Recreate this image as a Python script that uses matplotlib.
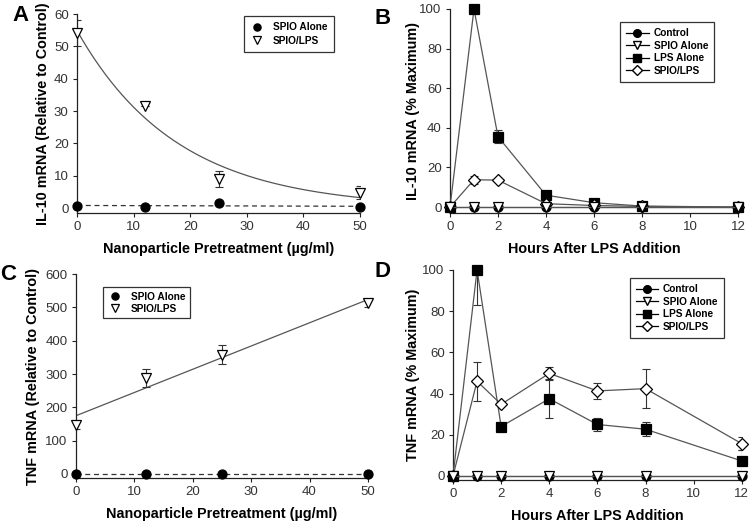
import numpy as np
import matplotlib
matplotlib.use("Agg")
import matplotlib.pyplot as plt
from matplotlib.lines import Line2D

plt.rcParams['font.family'] = ['Liberation Sans', 'DejaVu Sans']

# ---------------- data ----------------
conc = [0, 12, 25, 50]
a_spio_alone = [0.8, 0.3, 1.5, 0.3]
a_spio_lps = [54.0, 31.5, 9.0, 4.8]
a_spio_lps_err = [4.0, 0.0, 2.6, 2.0]

c_spio_alone = [0.0, 0.0, 0.0, 0.0]
c_spio_lps = [148, 288, 358, 512]
c_spio_lps_err = [12, 27, 29, 12]

hours = [0, 1, 2, 4, 6, 8, 12]
b_control = [0, 0, 0, 0, 0, 0, 0]
b_spio_alone = [0, 0, 0, 0, 0, 0, 0]
b_lps_alone = [0, 100, 35.5, 6.0, 2.2, 0.5, 0]
b_lps_alone_err = [0, 0, 3.2, 0, 0, 0, 0]
b_spio_lps = [0, 13.8, 13.6, 1.7, 0.8, 0.3, 0]
b_spio_lps_err = [0, 2.0, 0, 0, 0, 0, 0]

d_control = [0, 0, 0, 0, 0, 0, 0]
d_spio_alone = [0, 0, 0, 0, 0, 0, 0]
d_lps_alone = [0, 100, 24, 37.5, 25, 22.7, 7.3]
d_lps_alone_err = [0, 17, 0, 9.5, 3.0, 3.5, 5.3]
d_spio_lps = [0, 46, 34.8, 49.8, 41.3, 42.4, 15.7]
d_spio_lps_err = [0, 9.5, 0, 3.0, 3.7, 9.6, 3.0]

tick_col = '#333333'
line_col = '#555555'
LABEL_FS = 10.4

fig = plt.figure(figsize=(7.5, 5.27), dpi=100)


def style(ax):
    for s in ['top', 'right']:
        ax.spines[s].set_visible(False)
    for s in ['left', 'bottom']:
        ax.spines[s].set_linewidth(0.9)
        ax.spines[s].set_color('#222222')
    ax.tick_params(direction='out', length=3, width=0.8, labelsize=9.5,
                   labelcolor=tick_col, color='#222222', pad=3)


def exp_fit(x, y):
    x = np.asarray(x, float)
    y = np.asarray(y, float)
    best = None
    for k in np.linspace(0.001, 0.2, 2000):
        e = np.exp(-k * x)
        amp = np.sum(y * e) / np.sum(e * e)
        sse = np.sum((y - amp * e) ** 2)
        if best is None or sse < best[0]:
            best = (sse, amp, k)
    return best[1], best[2]


mk_kw = dict(markersize=6.5, markeredgecolor='black', markeredgewidth=0.9, clip_on=False, zorder=5)
err_kw = dict(ecolor='#333333', elinewidth=0.8, capsize=3, capthick=0.8)


def labels(ax, xl, yl, ycoord):
    ax.set_xlabel(xl, fontsize=LABEL_FS, fontweight='bold', labelpad=6)
    ax.set_ylabel(yl, fontsize=LABEL_FS, fontweight='bold')
    ax.yaxis.set_label_coords(ycoord, 0.5)


def two_legend(ax, loc, anchor, pad, spacing):
    lg = ax.legend(loc=loc, bbox_to_anchor=anchor, frameon=True, markerscale=0.8,
                   fancybox=False, edgecolor='black', handlelength=1.5, borderpad=pad,
                   labelspacing=spacing, prop={'weight': 'bold', 'size': 7.3})
    lg.get_frame().set_linewidth(0.9)


# ---------------- Panel A ----------------
axA = fig.add_axes([0.1027, 0.5958, 0.3773, 0.3776])
style(axA)
xs = np.linspace(0, 50, 200)
p = np.polyfit(conc, a_spio_alone, 1)
axA.plot(xs, np.polyval(p, xs), ls=(0, (4, 3)), color='#333333', lw=0.9)
amp, k = exp_fit(conc, a_spio_lps)
axA.plot(xs, amp * np.exp(-k * xs), color=line_col, lw=0.9)
axA.errorbar(conc, a_spio_lps, yerr=a_spio_lps_err, fmt='none', **err_kw)
axA.plot(conc, a_spio_alone, 'o', color='black', label='SPIO Alone', **mk_kw)
axA.plot(conc, a_spio_lps, 'v', color='white', label='SPIO/LPS', **mk_kw)
axA.set_xlim(0, 50)
axA.set_ylim(-1.5, 60)
axA.set_xticks([0, 10, 20, 30, 40, 50])
axA.set_yticks([0, 10, 20, 30, 40, 50, 60])
labels(axA, 'Nanoparticle Pretreatment (µg/ml)', 'IL-10 mRNA (Relative to Control)', -0.095)
two_legend(axA, 'upper right', (0.925, 1.015), 0.6, 0.35)

# ---------------- Panel B ----------------
axB = fig.add_axes([0.6, 0.5958, 0.384, 0.3872])
style(axB)
axB.errorbar(hours, b_lps_alone, yerr=b_lps_alone_err, fmt='none', **err_kw)
axB.errorbar(hours, b_spio_lps, yerr=b_spio_lps_err, fmt='none', **err_kw)
axB.plot(hours, b_lps_alone, '-s', color=line_col, markerfacecolor='black', label='LPS Alone', lw=0.9, **mk_kw)
axB.plot(hours, b_spio_lps, '-D', color=line_col, markerfacecolor='white', label='SPIO/LPS', lw=0.9,
         **{**mk_kw, 'markersize': 6})
axB.plot(hours, b_control, '-o', color=line_col, markerfacecolor='black', label='Control', lw=0.9, **mk_kw)
axB.plot(hours, b_spio_alone, '-v', color=line_col, markerfacecolor='white', label='SPIO Alone', lw=0.9, **mk_kw)
axB.set_xlim(0, 12)
axB.set_ylim(-3, 100)
axB.set_xticks([0, 2, 4, 6, 8, 10, 12])
axB.set_yticks([0, 20, 40, 60, 80, 100])
labels(axB, 'Hours After LPS Addition', 'IL-10 mRNA (% Maximum)', -0.104)


def four_legend(ax, anchor):
    handles = [
        Line2D([], [], color='black', marker='o', markerfacecolor='black', markeredgecolor='black', markersize=5.5, lw=0.9),
        Line2D([], [], color='black', marker='v', markerfacecolor='white', markeredgecolor='black', markersize=5.5, lw=0.9),
        Line2D([], [], color='black', marker='s', markerfacecolor='black', markeredgecolor='black', markersize=5.5, lw=0.9),
        Line2D([], [], color='black', marker='D', markerfacecolor='white', markeredgecolor='black', markersize=5, lw=0.9),
    ]
    lbls = ['Control', 'SPIO Alone', 'LPS Alone', 'SPIO/LPS']
    lg = ax.legend(handles, lbls, loc='upper right', bbox_to_anchor=anchor, frameon=True,
                   fancybox=False, edgecolor='black', handlelength=2.2, borderpad=0.6,
                   labelspacing=0.25, handletextpad=0.5, prop={'weight': 'bold', 'size': 7.3})
    lg.get_frame().set_linewidth(0.9)


four_legend(axB, (0.935, 0.96))

# ---------------- Panel C ----------------
axC = fig.add_axes([0.1013, 0.093, 0.3893, 0.387])
style(axC)
p = np.polyfit(conc, c_spio_alone, 1)
axC.plot(xs, np.polyval(p, xs), ls=(0, (4, 3)), color='#333333', lw=0.9)
p2 = np.polyfit(conc, c_spio_lps, 1)
axC.plot(xs, np.polyval(p2, xs), color=line_col, lw=0.9)
axC.errorbar(conc, c_spio_lps, yerr=c_spio_lps_err, fmt='none', **err_kw)
axC.plot(conc, c_spio_alone, 'o', color='black', label='SPIO Alone', **mk_kw)
axC.plot(conc, c_spio_lps, 'v', color='white', label='SPIO/LPS', **mk_kw)
axC.set_xlim(0, 50)
axC.set_ylim(-12, 600)
axC.set_xticks([0, 10, 20, 30, 40, 50])
axC.set_yticks([0, 100, 200, 300, 400, 500, 600])
labels(axC, 'Nanoparticle Pretreatment (µg/ml)', 'TNF mRNA (Relative to Control)', -0.123)
two_legend(axC, 'upper left', (0.075, 0.96), 0.45, 0.2)

# ---------------- Panel D ----------------
axD = fig.add_axes([0.604, 0.089, 0.385, 0.3987])
style(axD)
axD.errorbar(hours, d_lps_alone, yerr=d_lps_alone_err, fmt='none', **err_kw)
axD.errorbar(hours, d_spio_lps, yerr=d_spio_lps_err, fmt='none', **err_kw)
axD.plot(hours, d_lps_alone, '-s', color=line_col, markerfacecolor='black', label='LPS Alone', lw=0.9, **mk_kw)
axD.plot(hours, d_spio_lps, '-D', color=line_col, markerfacecolor='white', label='SPIO/LPS', lw=0.9,
         **{**mk_kw, 'markersize': 6})
axD.plot(hours, d_control, '-o', color=line_col, markerfacecolor='black', label='Control', lw=0.9, **mk_kw)
axD.plot(hours, d_spio_alone, '-v', color=line_col, markerfacecolor='white', label='SPIO Alone', lw=0.9, **mk_kw)
axD.set_xlim(0, 12)
axD.set_ylim(-2, 100)
axD.set_xticks([0, 2, 4, 6, 8, 10, 12])
axD.set_yticks([0, 20, 40, 60, 80, 100])
labels(axD, 'Hours After LPS Addition', 'TNF mRNA (% Maximum)', -0.114)
four_legend(axD, (0.955, 0.985))

# panel letters
for lbl, x, y in [('A', 0.016, 0.99), ('B', 0.5, 0.985), ('C', 0.0, 0.5), ('D', 0.499, 0.505)]:
    fig.text(x, y, lbl, fontsize=16, fontweight='bold', va='top', ha='left', color='black')

fig.savefig('out.png', dpi=100)
